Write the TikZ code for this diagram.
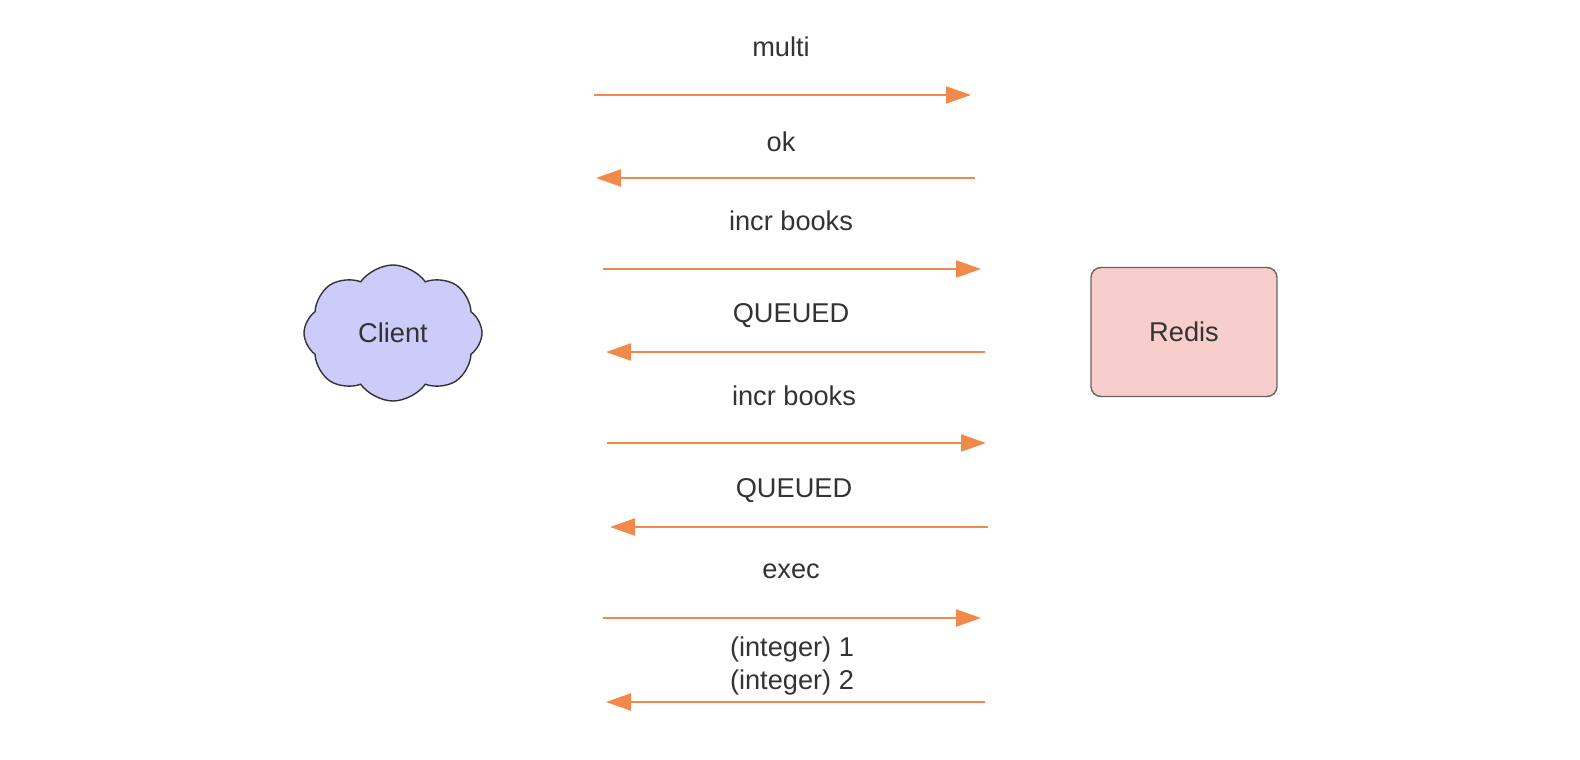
\documentclass[tikz,border=0pt]{standalone}
\usepackage{fontspec}
\setmainfont{Liberation Sans}
\usetikzlibrary{shapes.symbols,arrows.meta}
\definecolor{msgorange}{RGB}{240,137,74}
\definecolor{textgray}{RGB}{51,51,51}
\definecolor{clientfill}{RGB}{204,204,250}
\definecolor{redisfill}{RGB}{248,206,204}
\definecolor{redisline}{RGB}{100,100,100}

\begin{document}
\begin{tikzpicture}[x=0.5pt, y=-0.5pt,
    every node/.style={text=textgray, font=\fontsize{13.6}{16.5}\selectfont},
    msg/.style={draw=msgorange, line width=1.1pt, -{Triangle[length=12.5pt, width=8.5pt]}},
    msglabel/.style={align=center, inner sep=0pt}]
    \useasboundingbox (0,0) rectangle (1580,760);

    \node [draw=textgray, fill=clientfill, cloud, cloud puffs=8, cloud puff arc=110,
           minimum width=89pt, minimum height=68pt, line width=0.7pt] (client) at (393,333) {Client};
    \node [draw=redisline, fill=redisfill, rounded corners=5pt, line width=0.7pt,
           minimum width=93pt, minimum height=64.5pt] (redis) at (1184,332) {Redis};

    % messages
    \node [msglabel] (multi)   at (781,47)  {multi};
    \node [msglabel] (ok)      at (781,142) {ok};
    \node [msglabel] (incra)   at (791,221) {incr books};
    \node [msglabel] (queueda) at (791,316) {QUEUED};
    \node [msglabel] (incrb)   at (794,396) {incr books};
    \node [msglabel] (queuedb) at (794,491) {QUEUED};
    \node [msglabel] (exec)    at (791,571) {exec};
    \node [msglabel] (result)  at (792,666) {(integer) 1\\(integer) 2};

    \coordinate (multiL)   at (594,95);  \coordinate (multiR)   at (971,95);
    \coordinate (okL)      at (596,178); \coordinate (okR)      at (975,178);
    \coordinate (incraL)   at (603,269); \coordinate (incraR)   at (981,269);
    \coordinate (queuedaL) at (606,352); \coordinate (queuedaR) at (985,352);
    \coordinate (incrbL)   at (607,443); \coordinate (incrbR)   at (986,443);
    \coordinate (queuedbL) at (610,527); \coordinate (queuedbR) at (988,527);
    \coordinate (execL)    at (603,618); \coordinate (execR)    at (981,618);
    \coordinate (resultL)  at (606,702); \coordinate (resultR)  at (985,702);

    \draw [msg] (multiL)   -- (multiR);
    \draw [msg] (okR)      -- (okL);
    \draw [msg] (incraL)   -- (incraR);
    \draw [msg] (queuedaR) -- (queuedaL);
    \draw [msg] (incrbL)   -- (incrbR);
    \draw [msg] (queuedbR) -- (queuedbL);
    \draw [msg] (execL)    -- (execR);
    \draw [msg] (resultR)  -- (resultL);
\end{tikzpicture}
\end{document}
